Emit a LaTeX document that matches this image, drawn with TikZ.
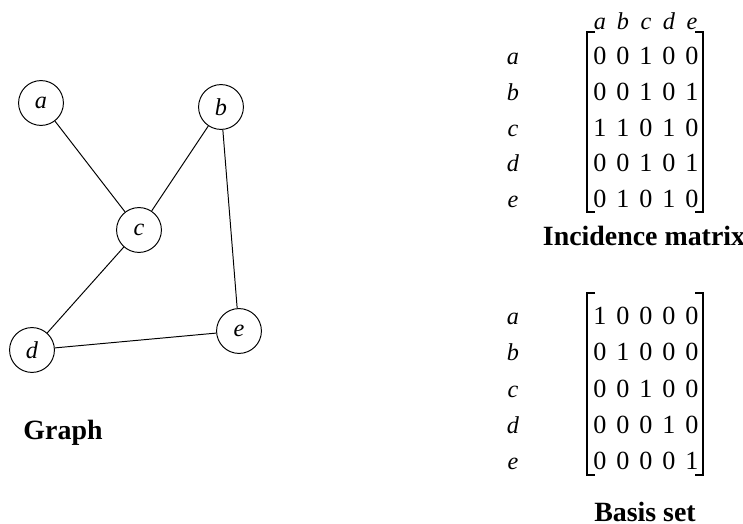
\documentclass[tikz,border=0pt]{standalone}
\usepackage{fontspec}
\setmainfont{Liberation Serif}
\usetikzlibrary{positioning}
\tikzset{
  vertex/.style={circle,draw,minimum size=18.5pt,inner sep=0pt,font=\itshape},
  entry/.style={inner sep=0pt,text height=1.5ex,text depth=0.2ex},
  rowlabel/.style={entry,font=\itshape},
  caption/.style={font=\fontsize{11.5pt}{13pt}\selectfont\bfseries,inner sep=0pt,anchor=base},
  bracket/.style={line width=0.5pt}
}
\begin{document}
\begin{tikzpicture}[x=0.0145cm,y=-0.0145cm,every node/.append style={font=\fontsize{10.8pt}{13pt}\selectfont}]
  \useasboundingbox (0,0) rectangle (743,524);
  % graph
  \node[vertex] (a) at (41,103) {a};
  \node[vertex] (b) at (221,107) {b};
  \node[vertex] (c) at (139,230) {c};
  \node[vertex] (d) at (32,350) {d};
  \node[vertex] (e) at (239,331) {e};
  \draw (a) -- (c);
  \draw (c) -- (b);
  \draw (c) -- (d);
  \draw (d) -- (e);
  \draw (b) -- (e);
  \node[caption] (graph) at (63,440) {Graph};
  % incidence matrix
  \foreach \c [count=\j] in {a,b,c,d,e}
    \node[rowlabel] (IH-\j) at ({577+23*\j},22) {\c};
  \foreach \r/\y/\vals in {a/57/{0,0,1,0,0},b/93/{0,0,1,0,1},c/129/{1,1,0,1,0},
                           d/164/{0,0,1,0,1},e/200/{0,1,0,1,0}}{
    \node[rowlabel] (IL-\r) at (513,\y) {\r};
    \foreach \v [count=\j] in \vals
      \node[entry] (I-\r-\j) at ({577+23*\j},\y) {\v};
  }
  \draw[bracket] (595,32) -- (587,32) -- (587,212) -- (595,212);
  \draw[bracket] (695,32) -- (703,32) -- (703,212) -- (695,212);
  \node[caption] (inccap) at (644,246) {Incidence matrix};
  % basis set
  \foreach \r/\y/\vals in {a/317/{1,0,0,0,0},b/353/{0,1,0,0,0},c/390/{0,0,1,0,0},
                           d/426/{0,0,0,1,0},e/462/{0,0,0,0,1}}{
    \node[rowlabel] (BL-\r) at (513,\y) {\r};
    \foreach \v [count=\j] in \vals
      \node[entry] (B-\r-\j) at ({577+23*\j},\y) {\v};
  }
  \draw[bracket] (595,293) -- (587,293) -- (587,475) -- (595,475);
  \draw[bracket] (695,293) -- (703,293) -- (703,475) -- (695,475);
  \node[caption] (bascap) at (645,521) {Basis set};
\end{tikzpicture}
\end{document}
